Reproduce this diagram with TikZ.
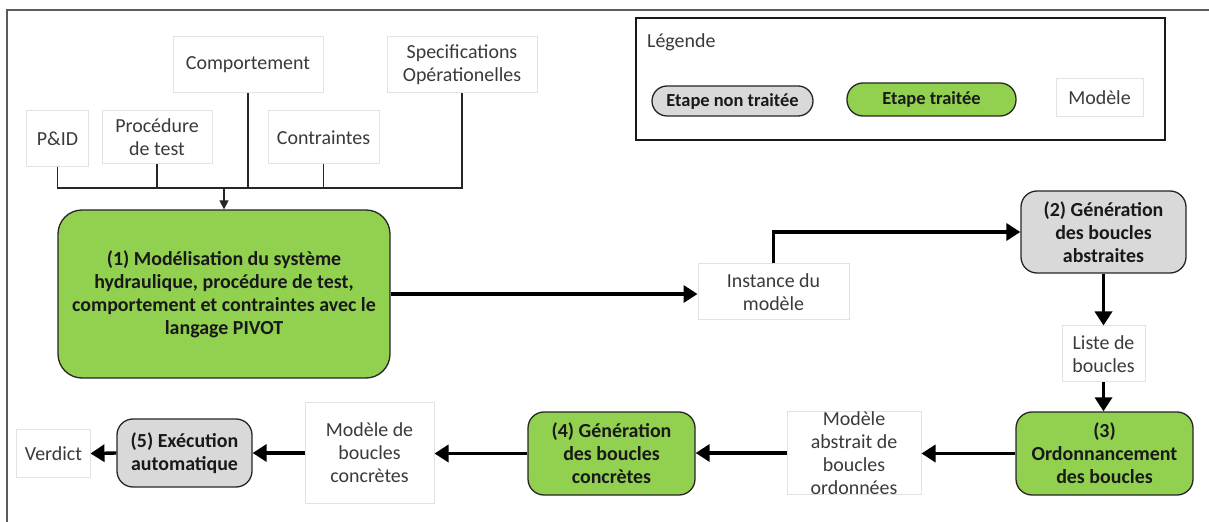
\documentclass[tikz,border=0pt]{standalone}
\usepackage{fontspec}
\setmainfont{Carlito}
\usetikzlibrary{arrows.meta}
\definecolor{stepgreen}{HTML}{92D050}
\definecolor{stepgrey}{HTML}{D9D9D9}
\definecolor{modelborder}{HTML}{E2E2E2}
\definecolor{txt}{HTML}{3A3A3A}
\definecolor{frameline}{HTML}{5A5A5A}
\begin{document}
\begin{tikzpicture}[x=1bp,y=-1bp,
  basefont/.style={font=\fontsize{20}{23}\selectfont},
  model/.style={basefont, draw=modelborder, line width=1bp, fill=white, text=txt, align=center, inner sep=0pt},
  stepbox/.style={font=\fontsize{20}{23}\selectfont\bfseries, draw=black!85, line width=1.3bp, text=black!90, align=center, inner sep=0pt, rounded corners=16bp},
  donestep/.style={stepbox, fill=stepgreen},
  todostep/.style={stepbox, fill=stepgrey},
  legstep/.style={font=\fontsize{18.5}{22}\selectfont\bfseries},
  flow/.style={line width=3.4bp, -{Triangle[length=14bp,width=17bp]}},
  feed/.style={line width=1.3bp, black!85},
  feedarrow/.style={feed, -{Triangle[length=9bp,width=9bp]}},
]
\useasboundingbox (0,0) rectangle (1209,522);
% frame lines
\draw[frameline, line width=1.3bp] (7,522) -- (7,10) -- (1209,10);

% input models
\node[model, minimum width=61bp, minimum height=56bp] (pid) at (57.5,139) {P\&ID};
\node[model, minimum width=110bp, minimum height=53bp] (proc) at (157,137.5) {Procédure\\de test};
\node[model, minimum width=150bp, minimum height=56bp] (comp) at (248,65) {Comportement};
\node[model, minimum width=111bp, minimum height=53bp] (contr) at (323.5,137.5) {Contraintes};
\node[model, minimum width=150bp, minimum height=56bp] (spec) at (462,65) {Specifications\\Opérationelles};

% steps and models
\node[donestep, rounded corners=24bp, minimum width=332bp, minimum height=168bp] (s1) at (224,294)
  {(1) Modélisation du système\\hydraulique, procédure de test,\\comportement et contraintes avec le\\langage PIVOT};
\node[model, minimum width=151bp, minimum height=56bp] (inst) at (773.5,292) {Instance du\\modèle};
\node[todostep, minimum width=165bp, minimum height=82bp] (s2) at (1103.5,232) {(2) Génération\\des boucles\\abstraites};
\node[model, minimum width=83bp, minimum height=56bp] (liste) at (1103.5,354) {Liste de\\boucles};
\node[donestep, minimum width=177bp, minimum height=83bp] (s3) at (1104.5,453.5) {(3)\\Ordonnancement\\des boucles};
\node[model, minimum width=134bp, minimum height=82bp] (mabs) at (854,453) {Modèle\\abstrait de\\boucles\\ordonnées};
\node[donestep, minimum width=167bp, minimum height=83bp] (s4) at (611.5,453.5) {(4) Génération\\des boucles\\concrètes};
\node[model, minimum width=129bp, minimum height=100bp] (mconc) at (369.5,453) {Modèle de\\boucles\\concrètes};
\node[todostep, minimum width=135bp, minimum height=68bp] (s5) at (184.5,453) {(5) Exécution\\automatique};
\node[model, minimum width=73bp, minimum height=47bp] (verdict) at (53.5,453.5) {Verdict};

% legend
\node[draw=black!90, line width=1.5bp, fill=white, minimum width=529bp, minimum height=122bp, inner sep=0pt] (legbox) at (900.5,79) {};
\node[basefont, text=txt, anchor=west, inner sep=0pt] (legtitle) at (647,42) {Légende};
\node[todostep, legstep, rounded corners=15bp, minimum width=161bp, minimum height=30bp] (leg1) at (732.5,101) {Etape non traitée};
\node[donestep, legstep, rounded corners=16bp, minimum width=169bp, minimum height=33bp] (leg2) at (931.5,99.5) {Etape traitée};
\node[model, minimum width=87bp, minimum height=38bp] (leg3) at (1099.5,98) {Modèle};

% feeding connectors
\coordinate (j) at (224,188);
\draw[feed] (pid.south) -- (pid.south |- j) -- (spec.south |- j) -- (spec.south);
\draw[feed] (proc.south) -- (proc.south |- j);
\draw[feed] (comp.south) -- (comp.south |- j);
\draw[feed] (contr.south) -- (contr.south |- j);
\draw[feedarrow] (j) -- (s1.north);

% flow arrows
\draw[flow] (s1.east) -- (s1.east -| inst.west);
\draw[flow] (inst.north) |- (s2.west);
\draw[flow] (s2.south) -- (liste.north);
\draw[flow] (liste.south) -- (s3.north -| liste.south);
\draw[flow] (s3.west) -- (s3.west -| mabs.east);
\draw[flow] (mabs.west) -- (mabs.west -| s4.east);
\draw[flow] (s4.west) -- (s4.west -| mconc.east);
\draw[flow] (mconc.west) -- (s5.east);
\draw[flow] (s5.west) -- (verdict.east);
\end{tikzpicture}
\end{document}
